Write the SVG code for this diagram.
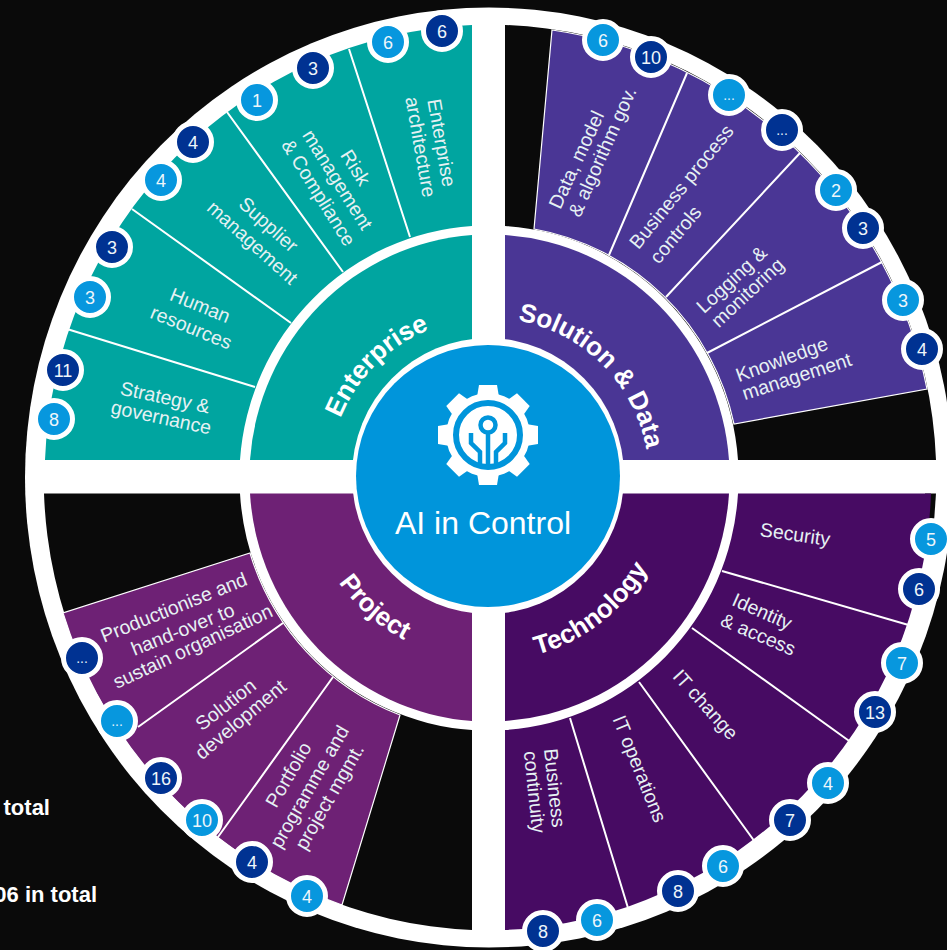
<svg xmlns="http://www.w3.org/2000/svg" width="947" height="950" viewBox="0 0 947 950">
<style>
text{font-family:"Liberation Sans",Arial,sans-serif}
.l{font-size:19.5px;fill:#e6f1f3;text-anchor:middle}
.c{font-size:26px;font-weight:700;fill:#fff;text-anchor:middle}
.t{font-size:22px;font-weight:700;fill:#fff;text-anchor:end}
.bt{font-size:18px;fill:#eef6fb;text-anchor:middle}
.dd{font-size:14px;fill:#e4f2fa;text-anchor:middle}
.bd{fill:#003292;stroke:#fff;stroke-width:5}
.bl{fill:#0797de;stroke:#fff;stroke-width:5}
.div{stroke:#fff;stroke-width:2;fill:none}
.edge{stroke:#fff;stroke-width:1.2}
.tr{stroke:#0095db;stroke-width:4.5;fill:none}
</style>
<defs>
<path id="arcE" d="M329,478A160,160 0 0 1 489,318"/>
<path id="arcS" d="M489,318A160,160 0 0 1 649,478"/>
<path id="arcT" d="M489,661A183,183 0 0 0 672,478"/>
<path id="arcP" d="M306,478A183,183 0 0 0 489,661"/>
</defs>
<rect width="947" height="950" fill="#0a0a0a"/>
<g id="ring">
<ellipse cx="489" cy="477.5" rx="464" ry="470" fill="#fff"/>
<path fill="#0a0a0a" d="M505,25A446,453 0 0 1 936,460L738,460A249,252 0 0 0 505,226Z"/>
<path fill="#0a0a0a" d="M44,493.5A446,453 0 0 0 472,930L472,730A249,252 0 0 1 240,493.5Z"/>
<path fill="#0a0a0a" d="M936,493.5L934,522L925,522L925,493.5Z"/>
</g>
<g id="outer-sectors">
<path fill="#00a5a0" d="M45,460A446,453 0 0 1 472,25L472,226A249,252 0 0 0 240,460Z"/>
<path class="edge" fill="#4a3695" d="M552,30A446,453 0 0 1 927,389L734,424A249,252 0 0 0 534,229Z"/>
<path fill="#470b63" d="M931,493.5A446,453 0 0 1 505,930L505,730A249,252 0 0 0 738,493.5Z"/>
<path class="edge" fill="#6e2175" d="M63,613A446,453 0 0 0 342,905L400,715A249,252 0 0 1 250,553Z"/>
</g>
<g id="connectors">
<path class="div" d="M67,329L255,387M132,209L291,323M227,112L343,272M349,49L410,237"/>
<path class="div" d="M687,73L609,255M800,153L666,297M882,262L707,353"/>
<path class="div" d="M912,626L722,571M852,743L692,628M755,842L639,682M628,908L570,718"/>
<path class="div" d="M138,727L283,623M218,837L333,677"/>
</g>
<g id="enterprise">
<path fill="#00a5a0" d="M250,460A240,243 0 0 1 472,235L472,460Z"/>
<text class="c"><textPath href="#arcE" startOffset="50%">Enterprise</textPath></text>
</g>
<g id="solution-data">
<path fill="#4a3695" d="M505,235A240,243 0 0 1 729,460L505,460Z"/>
<text class="c"><textPath href="#arcS" startOffset="50%">Solution &amp; Data</textPath></text>
</g>
<g id="technology">
<path fill="#470b63" d="M729,493.5A240,243 0 0 1 505,721L505,493.5Z"/>
<text class="c"><textPath href="#arcT" startOffset="42%">Technology</textPath></text>
</g>
<g id="project">
<path fill="#6e2175" d="M472,721A240,243 0 0 1 250,493.5L472,493.5Z"/>
<text class="c"><textPath href="#arcP" startOffset="54%">Project</textPath></text>
</g>
<g id="centre">
<ellipse cx="488" cy="476" rx="136" ry="138" fill="#fff"/>
<ellipse cx="488" cy="476" rx="132" ry="131" fill="#0095db"/>
<g id="gear-icon" transform="translate(488,435)">
<circle r="42" fill="#fff"/>
<g fill="#fff">
<polygon points="-11,-38 -9,-50 9,-50 11,-38"/>
<polygon points="-11,-38 -9,-50 9,-50 11,-38" transform="rotate(45)"/>
<polygon points="-11,-38 -9,-50 9,-50 11,-38" transform="rotate(90)"/>
<polygon points="-11,-38 -9,-50 9,-50 11,-38" transform="rotate(135)"/>
<polygon points="-11,-38 -9,-50 9,-50 11,-38" transform="rotate(180)"/>
<polygon points="-11,-38 -9,-50 9,-50 11,-38" transform="rotate(225)"/>
<polygon points="-11,-38 -9,-50 9,-50 11,-38" transform="rotate(270)"/>
<polygon points="-11,-38 -9,-50 9,-50 11,-38" transform="rotate(315)"/>
</g>
<circle r="32" class="tr" style="stroke-width:6"/>
<circle cy="-10" r="7.5" class="tr"/>
<path class="tr" d="M0,-3V31M-17,-2V8L-8,17V31M17,-2V8L8,17V31"/>
</g>
<text x="483" y="534" style="font-size:32px;fill:#fff;text-anchor:middle">AI in Control</text>
</g>
<g id="strategy-governance">
<text class="l" y="6" transform="translate(165,398) rotate(12)">Strategy &amp;</text>
<text class="l" y="6" transform="translate(161,418) rotate(12)">governance</text>
<circle class="bd" cx="63" cy="370" r="18.5"/><text class="bt" x="63" y="376.500">11</text>
<circle class="bl" cx="54" cy="419" r="18.5"/><text class="bt" x="54" y="425.500">8</text>
</g>
<g id="human-resources">
<text class="l" y="6" transform="translate(200,306) rotate(22)">Human</text>
<text class="l" y="6" transform="translate(191,328) rotate(22)">resources</text>
<circle class="bd" cx="112" cy="247" r="18.5"/><text class="bt" x="112" y="253.500">3</text>
<circle class="bl" cx="90" cy="297" r="18.5"/><text class="bt" x="90" y="303.500">3</text>
</g>
<g id="supplier-management">
<text class="l" y="6" transform="translate(268,225) rotate(42)">Supplier</text>
<text class="l" y="6" transform="translate(252,243) rotate(42)">management</text>
<circle class="bd" cx="193" cy="142" r="18.5"/><text class="bt" x="193" y="148.500">4</text>
<circle class="bl" cx="161" cy="180" r="18.5"/><text class="bt" x="161" y="186.500">4</text>
</g>
<g id="risk-compliance">
<text class="l" y="6" transform="translate(355,168) rotate(58)">Risk</text>
<text class="l" y="6" transform="translate(337,180) rotate(58)">management</text>
<text class="l" y="6" transform="translate(318,193) rotate(58)">&amp; Compliance</text>
<circle class="bl" cx="257" cy="100" r="18.5"/><text class="bt" x="257" y="106.500">1</text>
<circle class="bd" cx="313" cy="68" r="18.5"/><text class="bt" x="313" y="74.500">3</text>
</g>
<g id="enterprise-architecture">
<text class="l" y="6" transform="translate(441,143) rotate(80)">Enterprise</text>
<text class="l" y="6" transform="translate(420,147) rotate(80)">architecture</text>
<circle class="bl" cx="388" cy="42" r="18.5"/><text class="bt" x="388" y="48.500">6</text>
<circle class="bd" cx="442" cy="31" r="18.5"/><text class="bt" x="442" y="37.500">6</text>
</g>
<g id="data-model-algorithm">
<text class="l" y="6" transform="translate(577,160) rotate(-65)">Data, model</text>
<text class="l" y="6" transform="translate(603,152) rotate(-66)">&amp; algorithm gov.</text>
<circle class="bl" cx="603" cy="40" r="18.5"/><text class="bt" x="603" y="46.500">6</text>
<circle class="bd" cx="651" cy="57" r="18.5"/><text class="bt" x="651" y="63.500">10</text>
</g>
<g id="business-process-controls">
<text class="l" y="6" transform="translate(682,187) rotate(-51)">Business process</text>
<text class="l" y="6" transform="translate(676,235) rotate(-50)">controls</text>
<circle class="bl" cx="729" cy="95" r="18.5"/><text class="dd" x="729" y="100">...</text>
<circle class="bd" cx="782" cy="130" r="18.5"/><text class="dd" x="782" y="135">...</text>
</g>
<g id="logging-monitoring">
<text class="l" y="6" transform="translate(732,280) rotate(-43)">Logging &amp;</text>
<text class="l" y="6" transform="translate(748,293) rotate(-43)">monitoring</text>
<circle class="bl" cx="836" cy="190" r="18.5"/><text class="bt" x="836" y="196.500">2</text>
<circle class="bd" cx="863" cy="228" r="18.5"/><text class="bt" x="863" y="234.500">3</text>
</g>
<g id="knowledge-management">
<text class="l" y="6" transform="translate(782,360) rotate(-20)">Knowledge</text>
<text class="l" y="6" transform="translate(797,377) rotate(-18)">management</text>
<circle class="bl" cx="903" cy="300" r="18.5"/><text class="bt" x="903" y="306.500">3</text>
<circle class="bd" cx="922" cy="349" r="18.5"/><text class="bt" x="922" y="355.500">4</text>
</g>
<g id="security">
<text class="l" y="6" transform="translate(795,535) rotate(8)">Security</text>
<circle class="bl" cx="931" cy="539" r="18.5"/><text class="bt" x="931" y="545.500">5</text>
<circle class="bd" cx="919" cy="589" r="18.5"/><text class="bt" x="919" y="595.500">6</text>
</g>
<g id="identity-access">
<text class="l" y="6" transform="translate(762,612) rotate(24)">Identity</text>
<text class="l" y="6" transform="translate(758,635) rotate(23)">&amp; access</text>
<circle class="bl" cx="902" cy="663" r="18.5"/><text class="bt" x="902" y="669.500">7</text>
<circle class="bd" cx="875" cy="712" r="18.5"/><text class="bt" x="875" y="718.500">13</text>
</g>
<g id="it-change">
<text class="l" y="6" transform="translate(705,705) rotate(48)">IT change</text>
<circle class="bl" cx="828" cy="783" r="18.5"/><text class="bt" x="828" y="789.500">4</text>
<circle class="bd" cx="790" cy="820" r="18.5"/><text class="bt" x="790" y="826.500">7</text>
</g>
<g id="it-operations">
<text class="l" y="6" transform="translate(639,769) rotate(68)">IT operations</text>
<circle class="bl" cx="723" cy="866" r="18.5"/><text class="bt" x="723" y="872.500">6</text>
<circle class="bd" cx="678" cy="891" r="18.5"/><text class="bt" x="678" y="897.500">8</text>
</g>
<g id="business-continuity">
<text class="l" y="6" transform="translate(554,788) rotate(84)">Business</text>
<text class="l" y="6" transform="translate(534,792) rotate(84)">continuity</text>
<circle class="bl" cx="597" cy="920" r="18.5"/><text class="bt" x="597" y="926.500">6</text>
<circle class="bd" cx="543" cy="931" r="18.5"/><text class="bt" x="543" y="937.500">8</text>
</g>
<g id="productionise">
<text class="l" y="6" transform="translate(174,608) rotate(-22)">Productionise and</text>
<text class="l" y="6" transform="translate(183,630) rotate(-22)">hand-over to</text>
<text class="l" y="6" transform="translate(193,647) rotate(-25)">sustain organisation</text>
<circle class="bd" cx="82" cy="658" r="18.5"/><text class="dd" x="82" y="663">...</text>
<circle class="bl" cx="117" cy="721" r="18.5"/><text class="dd" x="117" y="726">...</text>
</g>
<g id="solution-development">
<text class="l" y="6" transform="translate(226,705) rotate(-38)">Solution</text>
<text class="l" y="6" transform="translate(241,720) rotate(-40)">development</text>
<circle class="bd" cx="161" cy="778" r="18.5"/><text class="bt" x="161" y="784.500">16</text>
<circle class="bl" cx="202" cy="820" r="18.5"/><text class="bt" x="202" y="826.500">10</text>
</g>
<g id="portfolio-programme">
<text class="l" y="6" transform="translate(289,775) rotate(-60)">Portfolio</text>
<text class="l" y="6" transform="translate(310,787) rotate(-60)">programme and</text>
<text class="l" y="6" transform="translate(330,797) rotate(-60)">project mgmt.</text>
<circle class="bd" cx="252" cy="862" r="18.5"/><text class="bt" x="252" y="868.500">4</text>
<circle class="bl" cx="307" cy="896" r="18.5"/><text class="bt" x="307" y="902.500">4</text>
</g>
<g id="totals">
<text class="t" x="50" y="815">total</text>
<text class="t" x="97" y="902">06 in total</text>
</g>
</svg>
